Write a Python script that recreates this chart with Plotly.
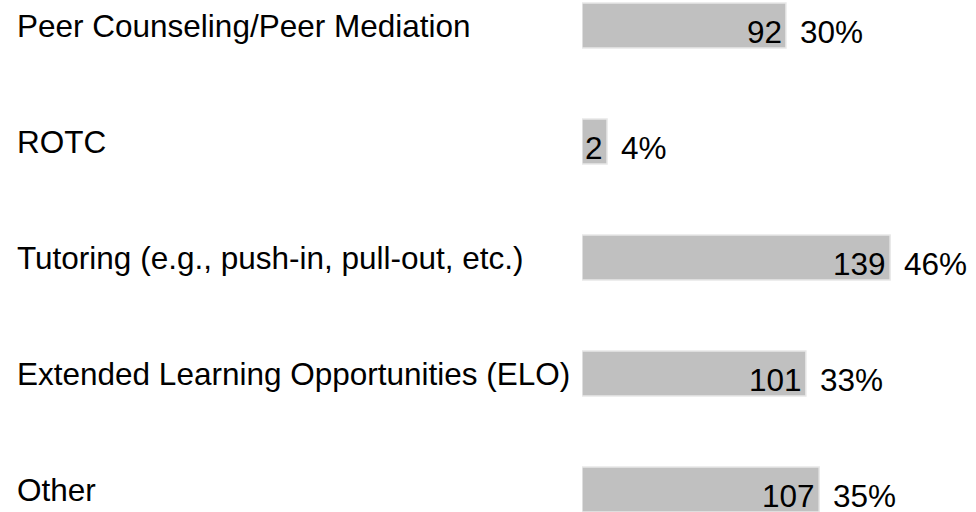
import plotly.graph_objects as go

categories = [
    "Peer Counseling/Peer Mediation",
    "ROTC",
    "Tutoring (e.g., push-in, pull-out, etc.)",
    "Extended Learning Opportunities (ELO)",
    "Other",
]
counts = [92, 2, 139, 101, 107]
percents = ["30%", "4%", "46%", "33%", "35%"]

MIN_BAR = 11.3  # minimum visible bar length so the count label fits
bar_len = [max(c, MIN_BAR) for c in counts]
ypos = list(range(len(categories)))

FONT = "Liberation Sans, Arial, sans-serif"
FS = 31.5

fig = go.Figure()
fig.add_trace(go.Bar(
    x=bar_len, y=ypos, orientation="h", width=0.39,
    marker=dict(color="#c0c0c0", line=dict(color="#e8e8e8", width=1.5)),
    hoverinfo="skip",
))

annotations = []
plot_w = 976 - 582
for i, (cat, c, p, L) in enumerate(zip(categories, counts, percents, bar_len)):
    annotations.append(dict(
        x=(15 - 582) / plot_w, xref="paper", y=i, yref="y",
        text=cat, showarrow=False, xanchor="left", yanchor="middle",
        font=dict(family=FONT, size=FS, color="black"),
    ))
    annotations.append(dict(
        x=L, xref="x", y=i, yref="y", text=str(c), showarrow=False,
        xanchor="right", yanchor="middle", xshift=-2, yshift=-6,
        font=dict(family=FONT, size=FS, color="black"),
    ))
    annotations.append(dict(
        x=L, xref="x", y=i, yref="y", text=p, showarrow=False,
        xanchor="left", yanchor="middle", xshift=12, yshift=-6,
        font=dict(family=FONT, size=FS, color="black"),
    ))

fig.update_layout(
    width=976, height=512,
    margin=dict(l=582, r=0, t=0, b=0),
    paper_bgcolor="white", plot_bgcolor="white",
    showlegend=False,
    xaxis=dict(range=[0, plot_w / 2.2168], visible=False, fixedrange=True),
    yaxis=dict(range=[4.194, -0.2198], visible=False, fixedrange=True),
    annotations=annotations,
)

fig.write_html(
    "out.html",
    config={"displayModeBar": False},
    post_script="document.body.style.margin='0';document.body.style.overflow='hidden';",
)
